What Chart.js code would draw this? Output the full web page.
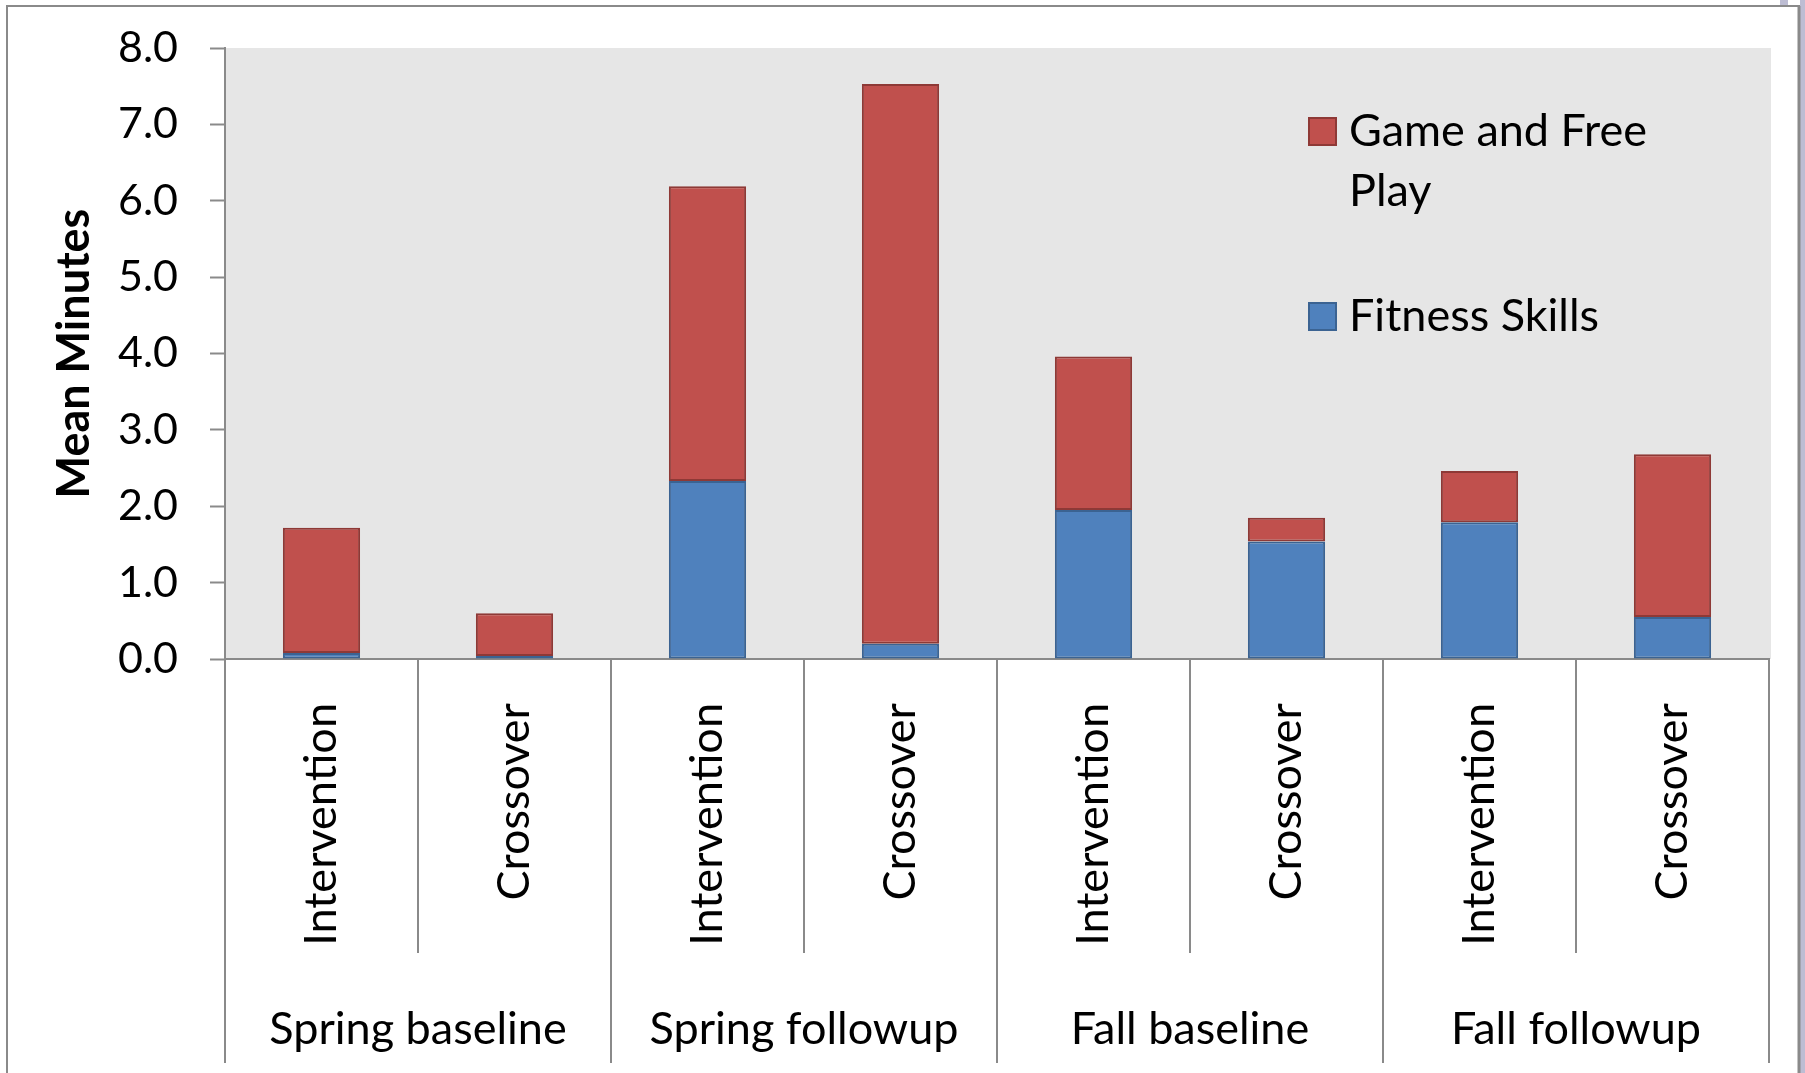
<!DOCTYPE html>
<html>
<head>
<meta charset="utf-8">
<script src="https://cdn.jsdelivr.net/npm/chart.js@4"></script>
<style>
  html, body { margin: 0; padding: 0; background: #ffffff; }
  canvas { display: block; }
</style>
</head>
<body>
<canvas id="chart" width="1805" height="1073"></canvas>
<script>
// Session groups and the two arms within each group
const groups = ['Spring baseline', 'Spring followup', 'Fall baseline', 'Fall followup'];
const arms = ['Intervention', 'Crossover', 'Intervention', 'Crossover',
              'Intervention', 'Crossover', 'Intervention', 'Crossover'];

// Mean minutes per activity type
const fitnessSkills = [0.08, 0.04, 2.33, 0.20, 1.95, 1.54, 1.79, 0.55];
const gameFreePlay  = [1.64, 0.56, 3.86, 7.33, 2.01, 0.31, 0.67, 2.13];

// Y axis range and tick step
const yMin = 0, yMax = 8, yStep = 1;

const FONT = 'Lato, "Open Sans", "DejaVu Sans", sans-serif';
const AXIS_GRAY = '#8a8a8a';
const TEXT_SIZE = 45;

// Outer frame, plot background
const framePlugin = {
  id: 'frame',
  beforeDraw(chart) {
    const { ctx, chartArea: a } = chart;
    ctx.save();
    ctx.fillStyle = '#ffffff';
    ctx.fillRect(0, 0, chart.width, chart.height);
    ctx.fillStyle = '#bdbdd3';
    ctx.fillRect(1800, 0, 5, chart.height);
    ctx.fillRect(1780, 0, 8, 5);
    ctx.strokeStyle = AXIS_GRAY;
    ctx.lineWidth = 2;
    ctx.beginPath();
    ctx.moveTo(7, chart.height + 5);
    ctx.lineTo(7, 6);
    ctx.lineTo(1799, 6);
    ctx.lineTo(1799, chart.height + 5);
    ctx.stroke();
    ctx.lineWidth = 3;
    ctx.beginPath();
    ctx.moveTo(1799, 6);
    ctx.lineTo(1799, chart.height + 5);
    ctx.stroke();
    ctx.fillStyle = '#e6e6e6';
    ctx.fillRect(a.left, a.top, a.right - a.left + 2, a.bottom - a.top);
    ctx.restore();
  }
};

// Category separators, group labels and legend
const decorPlugin = {
  id: 'decor',
  afterDraw(chart) {
    const { ctx, chartArea: a } = chart;
    const xs = chart.scales.x;
    const step = xs.getPixelForTick(1) - xs.getPixelForTick(0);
    const base = a.bottom;
    ctx.save();
    ctx.strokeStyle = AXIS_GRAY;
    ctx.lineWidth = 2;
    for (let i = 0; i <= arms.length; i++) {
      const x = Math.round(xs.getPixelForTick(Math.min(i, arms.length - 1)) + (i === arms.length ? step / 2 : -step / 2));
      const bottom = (i % 2 === 0) ? 1063 : 953;
      ctx.beginPath();
      ctx.moveTo(x, base);
      ctx.lineTo(x, bottom);
      ctx.stroke();
    }
    // group labels
    ctx.fillStyle = '#000000';
    ctx.font = TEXT_SIZE + 'px ' + FONT;
    ctx.textAlign = 'center';
    ctx.textBaseline = 'alphabetic';
    groups.forEach((g, k) => {
      const cx = (xs.getPixelForTick(2 * k) + xs.getPixelForTick(2 * k + 1)) / 2;
      ctx.fillText(g, cx, 1044);
    });
    // legend
    const ds = chart.data.datasets;
    const entries = [
      { d: ds[1], lines: ['Game and Free', 'Play'], boxTop: 118 },
      { d: ds[0], lines: ['Fitness Skills'], boxTop: 303 }
    ];
    ctx.textAlign = 'left';
    entries.forEach(e => {
      ctx.fillStyle = e.d.backgroundColor;
      ctx.fillRect(1309, e.boxTop, 27, 27);
      ctx.strokeStyle = e.d.borderColor;
      ctx.lineWidth = 2;
      ctx.strokeRect(1309, e.boxTop, 27, 27);
      ctx.fillStyle = '#000000';
      e.lines.forEach((t, j) => ctx.fillText(t, 1349, e.boxTop + 28 + j * 60));
    });
    ctx.restore();
  }
};

new Chart(document.getElementById('chart'), {
  type: 'bar',
  data: {
    labels: arms,
    datasets: [
      {
        label: 'Fitness Skills',
        data: fitnessSkills,
        backgroundColor: '#4f81bd',
        borderColor: '#3b6392',
        borderWidth: 2,
        borderSkipped: false
      },
      {
        label: 'Game and Free Play',
        data: gameFreePlay,
        backgroundColor: '#c0504d',
        borderColor: '#8e3936',
        borderWidth: 2,
        borderSkipped: false
      }
    ]
  },
  options: {
    responsive: false,
    animation: false,
    devicePixelRatio: 1,
    barPercentage: 0.4,
    categoryPercentage: 1.0,
    layout: { autoPadding: false, padding: { left: 7, right: 36, top: 48, bottom: 0 } },
    plugins: {
      legend: { display: false },
      tooltip: { enabled: false }
    },
    scales: {
      x: {
        stacked: true,
        grid: { display: false, drawTicks: false },
        border: { display: true, color: AXIS_GRAY, width: 2 },
        ticks: {
          autoSkip: false,
          minRotation: 90,
          maxRotation: 90,
          padding: 44,
          color: '#000000',
          font: { family: FONT, size: TEXT_SIZE }
        },
        afterFit(scale) {
          scale.height = 414;
          scale.paddingLeft = 0;
          scale.paddingRight = 0;
        }
      },
      y: {
        stacked: true,
        min: yMin,
        max: yMax,
        grid: {
          display: true,
          drawOnChartArea: false,
          drawTicks: true,
          tickLength: 15,
          tickWidth: 2,
          tickColor: AXIS_GRAY
        },
        border: { display: true, color: AXIS_GRAY, width: 2 },
        ticks: {
          stepSize: yStep,
          padding: 32,
          color: '#000000',
          font: { family: FONT, size: 43 },
          callback: v => Number(v).toFixed(1)
        },
        title: {
          display: true,
          text: 'Mean Minutes',
          color: '#000000',
          font: { family: FONT, size: TEXT_SIZE, weight: 'bold' },
          padding: { top: 40, bottom: 0 }
        },
        afterFit(scale) {
          scale.width = 218;
          scale.paddingTop = 0;
          scale.paddingBottom = 0;
        }
      }
    }
  },
  plugins: [framePlugin, decorPlugin]
});
</script>
</body>
</html>
